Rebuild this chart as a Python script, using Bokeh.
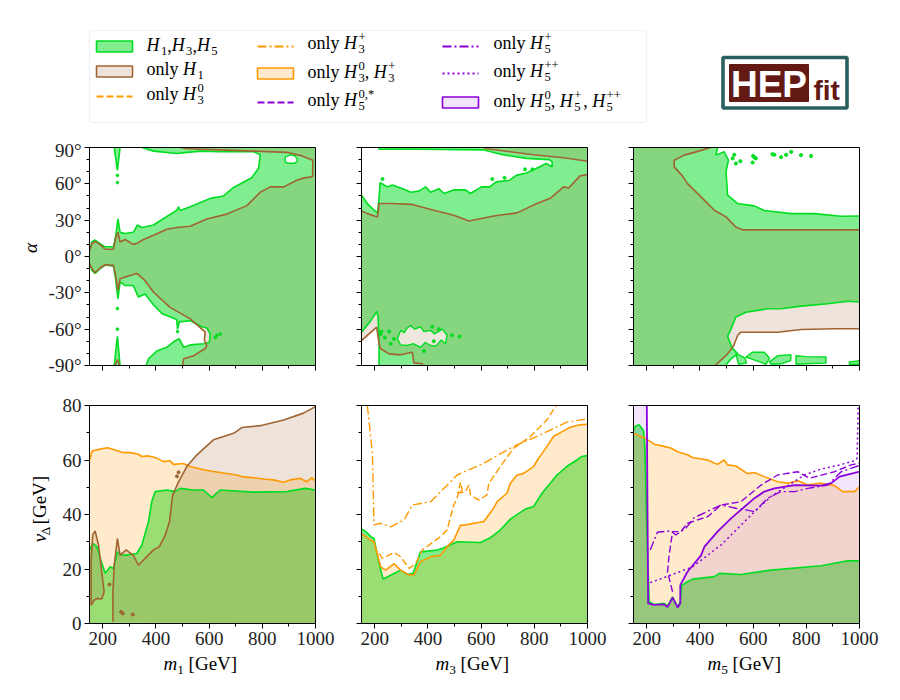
from math import pi
from bokeh.plotting import figure
from bokeh.layouts import column, row
from bokeh.models import Range1d, FixedTicker, LinearAxis, Label, BoxAnnotation
from bokeh.embed import file_html
from bokeh.resources import INLINE

GREEN, TAN, ORANGE, PURPLE = "#01dd21", "#a06432", "#ff9900", "#8c00dc"
SERIF = "Liberation Serif"
X_MIN, X_MAX = 150, 1000

# --- m1 / alpha
a1_green_up_x = [150, 159, 171, 190, 209, 240, 248, 257, 265, 284, 315, 330, 347, 391, 441, 478, 485, 491, 529, 572, 604, 654, 692, 760, 786, 792, 767, 641, 566, 478, 391, 347]
a1_green_up_y = [5, 12, 13.6, 10.6, 8, 8, 16, 31, 20, 19, 20, 26, 24, 26, 33, 38, 41, 38, 41, 45, 48, 50, 57, 65, 73, 84, 86.5, 86.5, 87, 85, 87, 90]
a1_green_lo_x = [150, 159, 171, 190, 209, 240, 248, 257, 265, 284, 315, 334, 359, 391, 422, 478, 481, 488, 529, 572, 591, 604, 601, 579, 529, 504, 488, 472, 441, 403, 372, 363]
a1_green_lo_y = [-6, -11.5, -14, -10, -7, -8, -18, -35, -21, -24, -24, -33.5, -31, -40, -47, -52, -60, -54, -53, -58, -59, -64, -71, -72, -73, -75, -68, -69.5, -75, -78, -84.5, -90]
a1_tan_up_x = [150, 159, 171, 190, 209, 240, 248, 257, 265, 284, 315, 330, 353, 391, 441, 478, 529, 591, 667, 742, 792, 830, 880, 930, 949, 989, 990, 942, 892, 767, 641, 516, 491]
a1_tan_up_y = [5, 10.6, 12.5, 9.8, 6, 6, 15, 20, 12, 14, 10, 11, 14, 17.5, 22.5, 24, 25, 31, 35, 42, 53, 57.5, 57.5, 63, 64.5, 66, 79.5, 83.5, 86, 87, 88, 89, 90]
a1_tan_lo_x = [150, 159, 171, 190, 209, 240, 248, 257, 265, 284, 328, 359, 391, 453, 529, 585, 582, 591, 585, 541, 504, 500]
a1_tan_lo_y = [-6, -10, -13.4, -9.5, -6.8, -7.3, -15.6, -28, -18.4, -17, -14, -20, -29.5, -42, -51.5, -62.5, -69, -73.5, -76, -82, -84.5, -90]
a1_spike_top_x = [243, 255, 265]
a1_spike_top_y = [90, 71, 90]
a1_spike_bot_x = [243, 255, 265]
a1_spike_bot_y = [-90, -66, -90]
a1_spike_tan_x = [246, 255, 263]
a1_spike_tan_y = [-90, -85, -90]
a1_hole_x = [886, 905, 923, 933, 923, 898, 886]
a1_hole_y = [82, 84, 83, 79.5, 77, 77, 78]
a1_dots_x = [255, 255, 255, 255, 629, 642, 623, 481]
a1_dots_y = [67, 61, -43, -60, -65, -64, -67, -62]

# --- m3 / alpha
a3_green_up_x = [150, 172, 191, 210, 216, 220, 235, 247, 266, 310, 335, 366, 391, 410, 441, 460, 497, 541, 560, 601, 632, 657, 707, 732, 770, 807, 845, 867, 867, 857, 770, 682, 610, 360, 216, 216]
a3_green_up_y = [50.6, 43.7, 39.5, 36, 48, 61, 59, 57.5, 59, 55.5, 53, 54, 57.5, 53, 56, 52, 55, 55, 52, 57.5, 57.5, 61.6, 63, 67, 69, 72.6, 76.8, 74, 78, 80, 81, 84, 88, 88.6, 88.6, 90]
a3_green_lo_x = [150, 185, 207, 212, 216, 216]
a3_green_lo_y = [-62.5, -53, -45.4, -49, -71, -90]
a3_tan_up_x = [150, 172, 210, 216, 260, 341, 422, 497, 554, 647, 735, 810, 860, 885, 910, 929, 972, 1000]
a3_tan_up_y = [37.6, 35.4, 32.7, 43.7, 43.7, 43, 38.2, 34, 29.3, 33.5, 36, 43.7, 48, 52.8, 57.5, 56.6, 66.6, 67.7]
a3_tan_top_x = [610, 622, 797, 910, 1000]
a3_tan_top_y = [90, 89, 84, 81.5, 78.7]
a3_tan_lo_x = [150, 172, 207, 216, 222, 254, 297, 341, 347, 379, 380]
a3_tan_lo_y = [-69.4, -65.2, -58.3, -72, -76.2, -80.4, -81.2, -79, -87.8, -88.6, -90]
a3_blob_x = [285, 297, 310, 322, 335, 350, 372, 385, 410, 425, 454, 472, 466, 450, 430, 410, 390, 372, 345, 322, 297]
a3_blob_y = [-68, -61, -63, -59, -57, -60, -58, -62, -61, -64, -60, -65, -72, -69, -74, -73.5, -71, -75, -72, -73.5, -73]
a3_dots_x = [229, 222, 254, 272, 260, 519, 491, 385, 416, 642, 688, 765, 793, 441, 422, 238, 225]
a3_dots_y = [64, -64, -62, -68, -72, -66, -65, -78, -58, 64, 65, 72, 72, -60, -70, -67, -62]

# --- m5 / alpha
a5_green_up_x = [466, 460, 491, 507, 498, 504, 542, 604, 642, 743, 830, 931, 1000]
a5_green_up_y = [90, 83.7, 86.4, 79.5, 70, 50.6, 43.7, 41.8, 38, 35.4, 35.4, 33.2, 33.5]
a5_green_lo_x = [1000, 956, 881, 780, 705, 655, 573, 535, 517, 504, 519, 542, 517, 501, 498]
a5_green_lo_y = [-37.6, -37, -39, -41, -43.2, -43.2, -46, -50, -59.7, -65.8, -74.8, -80.4, -84.5, -88.6, -90]
a5_tan_up_x = [441, 385, 341, 303, 303, 334, 353, 404, 454, 498, 535, 560, 667, 856, 1000]
a5_tan_up_y = [90, 86.4, 83.7, 79.5, 74, 66.6, 60.2, 49.2, 38.2, 32.7, 24.4, 22, 22, 22, 22]
a5_tan_lo_x = [1000, 906, 780, 692, 617, 554, 542, 527, 504, 464, 458]
a5_tan_lo_y = [-59.7, -59.7, -60.3, -62.5, -62.5, -62.5, -65, -73.5, -80.4, -88.6, -90]
a5_blobs_x = [[535, 570, 575, 545], [573, 598, 642, 662, 648, 598], [661, 692, 742, 741, 705, 668], [761, 761, 800, 874, 874, 800], [962, 1000, 1000, 962]]
a5_blobs_y = [[-80, -84, -88, -89], [-83, -79, -79, -84, -89, -85], [-87, -82, -81, -86, -88.6, -89], [-89, -82, -82.7, -83, -88, -88.6], [-87, -86, -89, -89]]
a5_dots_x = [523, 552, 529, 604, 673, 705, 724, 743, 780, 818, 598, 535, 600, 610, 680]
a5_dots_y = [81, 78.7, 84, 82, 84.5, 82, 84, 86.4, 83.7, 83, 77.6, 76.8, 83, 81, 84]

# --- m1 / v_Delta
v1_orange_x = [150, 160, 190, 218, 246, 272, 303, 334, 347, 372, 403, 428, 453, 466, 503, 529, 579, 616, 654, 704, 729, 767, 804, 842, 880, 905, 942, 967, 986, 1000]
v1_orange_y = [59.8, 63.3, 64, 64.5, 63.7, 62.8, 62.7, 62.1, 61.3, 61.5, 60.7, 59.4, 59.7, 58.4, 58.7, 57.6, 56.4, 55.8, 55.2, 54.5, 53.8, 53.5, 53, 52.7, 51.8, 52.7, 53.3, 52, 53.5, 52.3]
v1_green_x = [150, 162, 178, 190, 209, 228, 240, 255, 278, 328, 347, 372, 384, 397, 441, 472, 491, 541, 579, 610, 641, 767, 892, 961, 1000]
v1_green_y = [27, 29.4, 28.2, 24, 18.4, 20.8, 20.2, 26.3, 25, 25.7, 28.8, 37.4, 44.7, 48.4, 49, 48.4, 49.6, 49, 49, 46.2, 49, 48.2, 48.4, 49.6, 49]
v1_tan_x = [238, 238, 243, 255, 265, 288, 315, 334, 359, 391, 413, 435, 451, 463, 485, 516, 554, 616, 692, 723, 792, 880, 955, 1000]
v1_tan_y = [0.6, 11.6, 21.4, 31.2, 25, 27, 25, 21.4, 23.9, 27, 28.2, 32.5, 37.4, 47.2, 52, 57.6, 61.9, 67.4, 69.8, 71.9, 72.6, 74.7, 77.2, 79.6]
v1_lobe_x = [156, 156, 162, 171, 184, 196, 205, 196, 180, 168, 156]
v1_lobe_y = [6.7, 22.7, 32.5, 34, 28.8, 19, 11.6, 9, 9.2, 8.6, 6.7]
v1_dots_x = [225, 269, 275, 313, 485, 479]
v1_dots_y = [14.3, 4.3, 3.7, 3.3, 55.5, 54]

# --- m3 / v_Delta
v3_green_x = [150, 166, 185, 197, 212, 231, 241, 297, 322, 344, 372, 435, 460, 510, 597, 635, 672, 710, 766, 797, 829, 860, 885, 922, 960, 979, 1000]
v3_green_y = [34.7, 33.7, 31.9, 31.2, 24, 16.3, 16.8, 19.6, 18, 18.4, 26.3, 27, 27.8, 30, 29.7, 31.5, 34.3, 38.3, 42, 42.9, 47.8, 51.5, 54.5, 57.6, 60, 61.3, 61.6]
v3_orange_x = [150, 185, 197, 222, 241, 272, 297, 329, 347, 372, 410, 447, 472, 497, 522, 541, 610, 647, 660, 697, 710, 735, 760, 797, 816, 847, 872, 910, 935, 972, 1000]
v3_orange_y = [33, 30.6, 30, 20.8, 19.6, 22, 19.6, 17.8, 17.8, 22.7, 24.5, 25, 28.2, 30.6, 36, 36.2, 37.4, 42.3, 44.7, 47.8, 51.5, 54.5, 55.1, 57.6, 60.6, 64.9, 68.6, 70.7, 72, 72.9, 73.1]
v3_dashdot_x = [172, 185, 191, 197, 222, 260, 310, 341, 410, 510, 610, 722, 822, 922, 1000]
v3_dashdot_y = [80, 68, 62.5, 36.2, 36.8, 35.5, 38, 43.5, 44.7, 54.5, 58.8, 65, 69.2, 73.9, 75.1]
v3_dashed_x = [216, 229, 272, 297, 329, 354, 379, 447, 472, 497, 510, 522, 529, 510, 541, 554, 560, 591, 622, 629, 672, 722, 785, 847, 882]
v3_dashed_y = [25.7, 23.9, 26.1, 24.5, 20.2, 22, 27, 31.9, 34.3, 43.5, 46, 51.9, 49, 47.8, 48.4, 50.8, 47.2, 45.3, 47.2, 51.5, 57.6, 64.3, 68.6, 74.7, 80]

# --- m5 / v_Delta
v5_green_x = [150, 159, 171, 188, 193, 200, 209, 228, 265, 278, 297, 316, 326, 331, 353, 372, 454, 473, 554, 667, 856, 956, 1000]
v5_green_y = [71, 72.6, 72.9, 70.7, 64.3, 35, 8, 7, 7.4, 6.5, 9.8, 6.1, 8, 14, 15.3, 16.3, 17.2, 18.4, 18, 19.6, 21.2, 23, 23]
v5_orange_x = [150, 190, 228, 265, 290, 316, 353, 372, 429, 466, 491, 504, 535, 579, 604, 642, 692, 730, 768, 805, 856, 906, 937, 981, 1000]
v5_orange_y = [69.8, 68.2, 65.8, 65, 64.4, 63, 61.9, 60.9, 60, 58.4, 60, 58.2, 57.8, 55, 55.4, 53.9, 52, 51.5, 52.4, 50.9, 51.5, 50.6, 48.4, 48.4, 50.2]
v5_purple_x = [200, 205, 228, 265, 278, 297, 316, 326, 326, 353, 404, 417, 466, 517, 605, 642, 680, 756, 856, 894, 925, 1000]
v5_purple_y = [80, 7.4, 6.8, 7, 6, 9.5, 5.9, 7.4, 14.1, 19, 25, 28.2, 33.7, 38.6, 46, 48.4, 49.6, 50.8, 50.6, 51.5, 53.9, 55.7]
v5_dotted_x = [213, 291, 372, 479, 605, 667, 705, 793, 856, 918, 981, 991, 995]
v5_dotted_y = [15, 17.8, 20.8, 28.8, 41, 46.6, 49, 54.5, 56.7, 58, 59.7, 60.6, 79.6]
v5_dashdot_x = [213, 240, 291, 309, 347, 378, 479, 535, 573, 605, 655, 705, 756, 806, 881, 931, 1000]
v5_dashdot_y = [27, 33.5, 34, 32.5, 35, 38.8, 43.5, 42.3, 41.7, 41, 46, 48.4, 48.4, 49.6, 50.8, 55.7, 58]
v5_dashed_x = [297, 278, 284, 297, 328, 353, 429, 479, 554, 630, 692, 768, 812, 906, 969, 1000]
v5_dashed_y = [11.6, 19, 25.1, 33.7, 33.7, 36.8, 39.2, 43.5, 44.7, 50.8, 54.5, 55.7, 53.3, 55.7, 58.2, 58.8]

x_major = [200, 400, 600, 800, 1000]
x_minor = [300, 500, 700, 900]
alpha_major = [-90, -60, -30, 0, 30, 60, 90]
alpha_minor = [-80, -70, -50, -40, -20, -10, 10, 20, 40, 50, 70, 80]
v_major = [0, 20, 40, 60, 80]
v_minor = [10, 30, 50, 70]

WIDTHS = {"H": .8, "m": .72, "v": .45, "o": .5, "n": .5, "l": .28, "y": .5, " ": .25, ",": .25, "[": .33, "]": .33,
          "G": .72, "e": .44, "V": .72, "+": .72, "*": .5, "\u0394": .65, "\u03b1": .55}
BASE_FIX = 0.36  # Label sets "alphabetic" text this far (in em) under the anchor


def math_text(p, x, y, parts, size, rotated=False):
    # x, y are page pixels; parts: (text, kind), kind is i, n, sub or sup; a sup right after a sub stacks on it
    prev_kind, prev_run, prev_adv = None, 0, 0
    for txt, kind in parts:
        s = size * 0.7 if kind in ("sub", "sup") else size
        drop = {"sub": size * 0.22, "sup": -size * 0.42}.get(kind, 0) - BASE_FIX * s
        adv = sum(WIDTHS.get(c, .5) for c in txt) * s
        stacked = kind == "sup" and prev_kind == "sub"
        run = prev_run if stacked else prev_run + prev_adv
        # leading blanks get trimmed when the label is drawn, so step over them here
        bare = txt.lstrip()
        at = run + (len(txt) - len(bare)) * WIDTHS[" "] * s
        p.add_layout(Label(x=x + drop if rotated else x + at, y=y - at if rotated else y + drop,
                           text=bare, text_font=SERIF, text_font_size=f"{s:.1f}px", text_color="black",
                           angle=pi / 2 if rotated else 0,
                           text_font_style="italic" if kind == "i" else "normal",
                           text_align="left", text_baseline="alphabetic"))
        prev_kind, prev_run, prev_adv = kind, run, max(adv, prev_adv) if stacked else adv


def strip(x0, x1, y0, y1):
    # blank figure whose data coordinates are page pixels
    s = figure(x_range=Range1d(x0, x1), y_range=Range1d(y1, y0), width=x1 - x0, height=y1 - y0, x_axis_type=None,
               y_axis_type=None, toolbar_location=None, tools="", output_backend="svg", min_border=0,
               outline_line_color=None)
    s.grid.visible = False
    return s


def panel(y_range, y_major, y_minor, y_labels, left, right, top, bottom, x_labels, show_y):
    p = figure(x_range=Range1d(X_MIN, X_MAX), y_range=Range1d(*y_range), frame_width=226, frame_height=218,
               min_border_left=left, min_border_right=right, min_border_top=top, min_border_bottom=bottom,
               toolbar_location=None, tools="", output_backend="svg", outline_line_color=None)
    p.grid.visible = False
    for ax, major, minor in ((p.xaxis[0], x_major, x_minor), (p.yaxis[0], y_major, y_minor)):
        ax.ticker = FixedTicker(ticks=major, minor_ticks=minor)
        ax.major_tick_out, ax.major_tick_in = 5, 0
        ax.minor_tick_out, ax.minor_tick_in = 3, 0
        ax.axis_line_color = ax.major_tick_line_color = ax.minor_tick_line_color = "black"
        ax.major_label_text_font = SERIF
        ax.major_label_text_font_size = "19px"
        ax.major_label_text_color = "#222222"
    p.xaxis[0].major_label_standoff = 3
    p.yaxis[0].major_label_standoff = 3
    if not x_labels:
        p.xaxis[0].major_label_overrides = {t: "" for t in x_major}
        p.xaxis[0].major_label_text_font_size = "1px"
    if show_y:
        p.yaxis[0].major_label_overrides = {t: lab for t, lab in zip(y_major, y_labels)}
    else:
        p.yaxis[0].major_label_overrides = {t: "" for t in y_major}
        p.yaxis[0].major_label_text_font_size = "1px"
    for side in ("above", "right"):
        ax = LinearAxis(ticker=FixedTicker(ticks=[]), major_tick_line_color=None, minor_tick_line_color=None,
                        axis_line_color="black", major_label_text_font_size="1px")
        p.add_layout(ax, side)
    return p


def fill(p, xs, ys, color, alpha):
    p.patch(xs, ys, fill_color=color, fill_alpha=alpha, line_color=None)


def edge(p, xs, ys, color, dash="solid", width=1.6):
    p.line(xs, ys, line_color=color, line_width=width, line_dash=dash)


alpha_labels = ["-90\u00b0", "-60\u00b0", "-30\u00b0", "0\u00b0", "30\u00b0", "60\u00b0", "90\u00b0"]
v_labels = ["0", "20", "40", "60", "80"]
DASHED, DASHDOT, DOTTED = "7 3", "9 3 2 3", "2 3"

# top row
a1 = panel((-90, 90), alpha_major, alpha_minor, alpha_labels, 45, 23, 8, 20, False, True)
fill(a1, a1_green_up_x + [X_MAX, X_MAX] + a1_green_lo_x[::-1], a1_green_up_y + [90, -90] + a1_green_lo_y[::-1], GREEN, .5)
fill(a1, a1_spike_top_x, a1_spike_top_y, GREEN, .5)
fill(a1, a1_spike_bot_x, a1_spike_bot_y, GREEN, .5)
fill(a1, a1_tan_up_x + [X_MAX, X_MAX] + a1_tan_lo_x[::-1], a1_tan_up_y + [90, -90] + a1_tan_lo_y[::-1], TAN, .18)
a1.patch(a1_hole_x, a1_hole_y, fill_color="white", line_color=GREEN, line_width=1.4)
edge(a1, a1_green_up_x, a1_green_up_y, GREEN)
edge(a1, a1_green_lo_x, a1_green_lo_y, GREEN)
edge(a1, a1_spike_top_x, a1_spike_top_y, GREEN)
edge(a1, a1_spike_bot_x, a1_spike_bot_y, GREEN)
edge(a1, a1_tan_up_x, a1_tan_up_y, TAN)
edge(a1, a1_tan_lo_x, a1_tan_lo_y, TAN)
edge(a1, a1_spike_tan_x, a1_spike_tan_y, TAN)
a1.scatter(a1_dots_x, a1_dots_y, size=2.6, color=GREEN)

a3 = panel((-90, 90), alpha_major, alpha_minor, alpha_labels, 23, 23, 8, 20, False, False)
fill(a3, a3_green_up_x + [X_MAX, X_MAX] + a3_green_lo_x[::-1], a3_green_up_y + [90, -90] + a3_green_lo_y[::-1], GREEN, .5)
fill(a3, a3_tan_up_x + [X_MAX] + a3_tan_lo_x[::-1], a3_tan_up_y + [-90] + a3_tan_lo_y[::-1], TAN, .18)
fill(a3, a3_tan_top_x + [X_MAX], a3_tan_top_y + [90], TAN, .18)
a3.patch(a3_blob_x, a3_blob_y, fill_color="#eee7de", line_color=GREEN, line_width=1.4)
edge(a3, a3_green_up_x, a3_green_up_y, GREEN)
edge(a3, a3_green_lo_x, a3_green_lo_y, GREEN)
edge(a3, a3_tan_up_x, a3_tan_up_y, TAN)
edge(a3, a3_tan_top_x, a3_tan_top_y, TAN)
edge(a3, a3_tan_lo_x, a3_tan_lo_y, TAN)
a3.scatter(a3_dots_x, a3_dots_y, size=3, color=GREEN)

a5 = panel((-90, 90), alpha_major, alpha_minor, alpha_labels, 23, 24, 8, 20, False, False)
fill(a5, [X_MIN] + a5_green_up_x + a5_green_lo_x + [X_MIN], [90] + a5_green_up_y + a5_green_lo_y + [-90], GREEN, .5)
fill(a5, [X_MIN] + a5_tan_up_x + a5_tan_lo_x + [X_MIN], [90] + a5_tan_up_y + a5_tan_lo_y + [-90], TAN, .18)
for bx, by in zip(a5_blobs_x, a5_blobs_y):
    a5.patch(bx, by, fill_color=GREEN, fill_alpha=.5, line_color=GREEN, line_width=1.4)
edge(a5, a5_green_up_x, a5_green_up_y, GREEN)
edge(a5, a5_green_lo_x, a5_green_lo_y, GREEN)
edge(a5, a5_tan_up_x, a5_tan_up_y, TAN)
edge(a5, a5_tan_lo_x, a5_tan_lo_y, TAN)
a5.scatter(a5_dots_x, a5_dots_y, size=3.2, color=GREEN)

# bottom row
v1 = panel((0, 80), v_major, v_minor, v_labels, 37, 23, 20, 28, True, True)
fill(v1, v1_green_x + [X_MAX, X_MIN], v1_green_y + [0, 0], GREEN, .5)
fill(v1, v1_orange_x + [X_MAX, X_MIN], v1_orange_y + [0, 0], ORANGE, .2)
fill(v1, v1_tan_x + [X_MAX], v1_tan_y + [0], TAN, .18)
fill(v1, v1_lobe_x, v1_lobe_y, TAN, .18)
edge(v1, v1_green_x, v1_green_y, GREEN)
edge(v1, v1_orange_x, v1_orange_y, ORANGE)
edge(v1, v1_tan_x, v1_tan_y, TAN)
edge(v1, v1_lobe_x, v1_lobe_y, TAN)
v1.scatter(v1_dots_x, v1_dots_y, size=3, color=TAN)

v3 = panel((0, 80), v_major, v_minor, v_labels, 23, 23, 20, 28, True, False)
fill(v3, v3_green_x + [X_MAX, X_MIN], v3_green_y + [0, 0], GREEN, .5)
fill(v3, v3_orange_x + [X_MAX, X_MIN], v3_orange_y + [0, 0], ORANGE, .2)
edge(v3, v3_green_x, v3_green_y, GREEN)
edge(v3, v3_orange_x, v3_orange_y, ORANGE)
edge(v3, v3_dashdot_x, v3_dashdot_y, ORANGE, DASHDOT, 1.4)
edge(v3, v3_dashed_x, v3_dashed_y, ORANGE, DASHED, 1.4)

v5 = panel((0, 80), v_major, v_minor, v_labels, 23, 24, 20, 28, True, False)
fill(v5, v5_green_x + [X_MAX, X_MIN], v5_green_y + [0, 0], GREEN, .5)
fill(v5, v5_orange_x + [X_MAX, X_MIN], v5_orange_y + [0, 0], ORANGE, .2)
fill(v5, [X_MIN] + v5_purple_x + [X_MAX, X_MIN], [80] + v5_purple_y + [0, 0], PURPLE, .1)
edge(v5, v5_green_x, v5_green_y, GREEN)
edge(v5, v5_orange_x, v5_orange_y, ORANGE)
edge(v5, v5_purple_x, v5_purple_y, PURPLE, "solid", 1.8)
edge(v5, v5_dotted_x, v5_dotted_y, PURPLE, DOTTED, 1.5)
edge(v5, v5_dashdot_x, v5_dashdot_y, PURPLE, DASHDOT, 1.4)
edge(v5, v5_dashed_x, v5_dashed_y, PURPLE, DASHED, 1.4)

# axis titles need sub- and superscripts, so they sit in strips of their own
left_top = strip(0, 44, 139, 385)
math_text(left_top, 37, 258, [("\u03b1", "i")], 19, rotated=True)
left_bottom = strip(0, 52, 385, 651)
math_text(left_bottom, 46, 552, [("v", "i"), ("\u0394", "sub"), (" [GeV]", "n")], 19, rotated=True)
foot = strip(0, 892, 651, 690)
for fx, digit in ((163, "1"), (435, "3"), (707, "5")):
    math_text(foot, fx, 670, [("m", "i"), (digit, "sub"), (" [GeV]", "n")], 19)

# legend and logo
head = strip(0, 892, 0, 139)
head.add_layout(BoxAnnotation(left=89, right=646, top=30, bottom=122, fill_color="white", fill_alpha=1,
                              line_color="#cccccc", line_width=1.2, border_radius=3, level="underlay"))


def swatch(x, y, color, alpha, edge_color):
    head.quad(left=x, right=x + 36, top=y - 5.5, bottom=y + 5.5, fill_color=color, fill_alpha=alpha,
              line_color=edge_color, line_width=1.6)


def sample(x, y, color, dash):
    head.line([x, x + 36], [y, y], line_color=color, line_width=1.8, line_dash=dash)


swatch(96, 46, GREEN, .5, GREEN)
swatch(96, 71, TAN, .18, TAN)
sample(96, 96, ORANGE, DASHED)
sample(257, 46, ORANGE, DASHDOT)
swatch(257, 73, ORANGE, .2, ORANGE)
sample(257, 102, PURPLE, DASHED)
sample(442, 46, PURPLE, DASHDOT)
sample(442, 73, PURPLE, DOTTED)
swatch(442, 102, PURPLE, .1, PURPLE)

only = ("only ", "n")
legend_entries = [
    (146, 51, [("H", "i"), ("1", "sub"), (",", "n"), ("H", "i"), ("3", "sub"), (",", "n"), ("H", "i"), ("5", "sub")]),
    (146, 75, [only, ("H", "i"), ("1", "sub")]),
    (146, 100, [only, ("H", "i"), ("3", "sub"), ("0", "sup")]),
    (307, 49, [only, ("H", "i"), ("3", "sub"), ("+", "sup")]),
    (307, 78, [only, ("H", "i"), ("3", "sub"), ("0", "sup"), (", ", "n"), ("H", "i"), ("3", "sub"), ("+", "sup")]),
    (307, 106, [only, ("H", "i"), ("5", "sub"), ("0,*", "sup")]),
    (493, 49, [only, ("H", "i"), ("5", "sub"), ("+", "sup")]),
    (493, 77, [only, ("H", "i"), ("5", "sub"), ("++", "sup")]),
    (493, 107, [only, ("H", "i"), ("5", "sub"), ("0", "sup"), (", ", "n"), ("H", "i"), ("5", "sub"), ("+", "sup"),
                (", ", "n"), ("H", "i"), ("5", "sub"), ("++", "sup")]),
]
for lx, ly, parts in legend_entries:
    math_text(head, lx, ly, parts, 18)

head.quad(left=722.5, right=846.5, top=57, bottom=107.5, fill_color="white", line_color="#2a5f60", line_width=3.6)
head.quad(left=729, right=808, top=64, bottom=101, fill_color="#631a14", line_color="#631a14")
head.add_layout(Label(x=768.5, y=97 - 37 * BASE_FIX, text="HEP", text_font="Liberation Sans", text_font_style="bold",
                      text_font_size="37px", text_color="white", text_align="center", text_baseline="alphabetic"))
head.add_layout(Label(x=813, y=100 - 28 * BASE_FIX, text="fit", text_font="Liberation Sans", text_font_style="bold",
                      text_font_size="28px", text_color="#631a14", text_align="left", text_baseline="alphabetic"))

page = column(head,
              row(left_top, a1, a3, a5, spacing=0),
              row(left_bottom, v1, v3, v5, spacing=0),
              foot, spacing=0)
open("out.html", "w").write(file_html(page, INLINE))
